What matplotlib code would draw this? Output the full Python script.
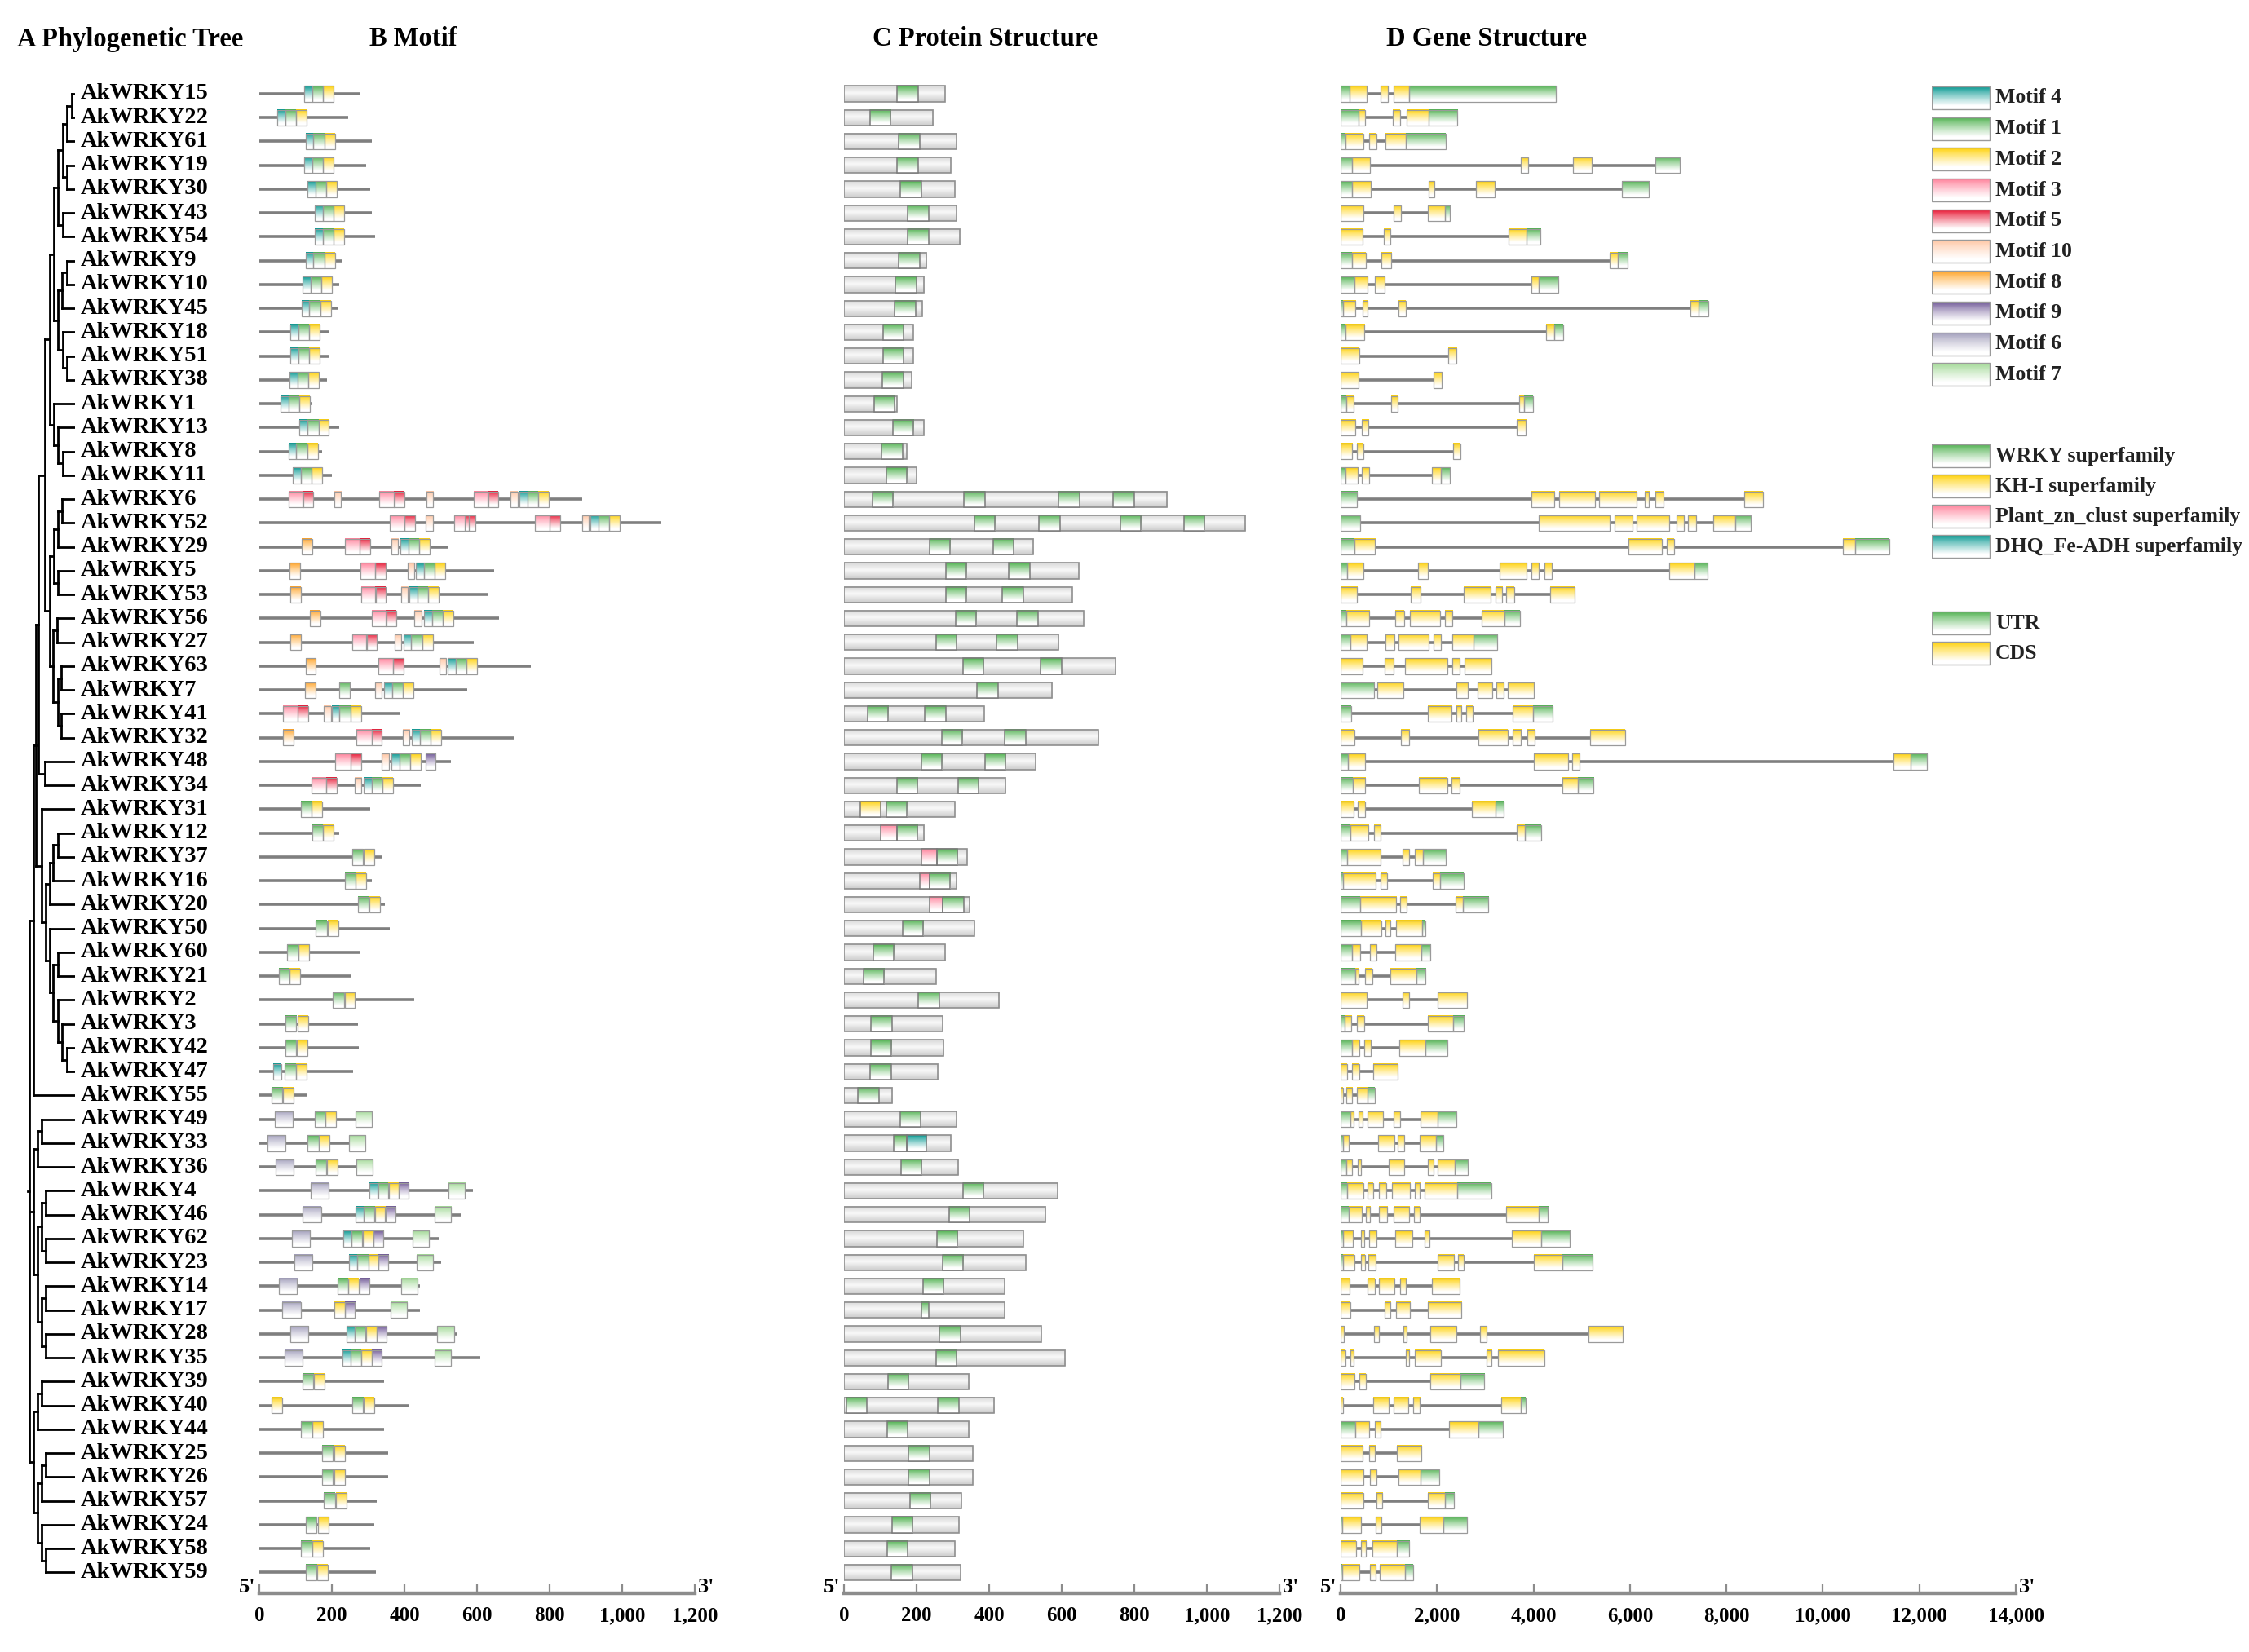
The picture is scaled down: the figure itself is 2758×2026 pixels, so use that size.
import numpy as np
import matplotlib
matplotlib.use('Agg')
import matplotlib.pyplot as plt
import matplotlib.colors as mcolors
from matplotlib.patches import Rectangle
from matplotlib.ticker import FuncFormatter, MultipleLocator

plt.rcParams['font.family'] = ['Liberation Serif', 'DejaVu Serif']
plt.rcParams['font.weight'] = 'bold'

# ---------------- data ----------------
genes = ['AkWRKY15', 'AkWRKY22', 'AkWRKY61', 'AkWRKY19', 'AkWRKY30', 'AkWRKY43', 'AkWRKY54',
         'AkWRKY9', 'AkWRKY10', 'AkWRKY45', 'AkWRKY18', 'AkWRKY51', 'AkWRKY38', 'AkWRKY1',
         'AkWRKY13', 'AkWRKY8', 'AkWRKY11', 'AkWRKY6', 'AkWRKY52', 'AkWRKY29', 'AkWRKY5',
         'AkWRKY53', 'AkWRKY56', 'AkWRKY27', 'AkWRKY63', 'AkWRKY7', 'AkWRKY41', 'AkWRKY32',
         'AkWRKY48', 'AkWRKY34', 'AkWRKY31', 'AkWRKY12', 'AkWRKY37', 'AkWRKY16', 'AkWRKY20',
         'AkWRKY50', 'AkWRKY60', 'AkWRKY21', 'AkWRKY2', 'AkWRKY3', 'AkWRKY42', 'AkWRKY47',
         'AkWRKY55', 'AkWRKY49', 'AkWRKY33', 'AkWRKY36', 'AkWRKY4', 'AkWRKY46', 'AkWRKY62',
         'AkWRKY23', 'AkWRKY14', 'AkWRKY17', 'AkWRKY28', 'AkWRKY35', 'AkWRKY39', 'AkWRKY40',
         'AkWRKY44', 'AkWRKY25', 'AkWRKY26', 'AkWRKY57', 'AkWRKY24', 'AkWRKY58', 'AkWRKY59']

prot_len = [278, 246, 311, 294, 305, 311, 320, 228, 221, 215, 190, 190, 187, 146, 220, 172, 200,
            890, 1106, 522, 647, 629, 660, 592, 749, 574, 386, 701, 528, 446, 305, 221, 339, 311,
            347, 359, 279, 253, 428, 272, 275, 259, 133, 311, 294, 315, 588, 556, 494, 501, 443,
            442, 543, 610, 344, 414, 344, 355, 355, 323, 316, 305, 321]

motif_width = {4: 22, 1: 30, 2: 29, 3: 41, 5: 29, 10: 19, 8: 29, 9: 27, 6: 50, 7: 45}

motif_sites = [
    [(4, 123), (1, 145), (2, 175)],
    [(4, 49), (1, 71), (2, 101)],
    [(4, 127), (1, 149), (2, 179)],
    [(4, 124), (1, 146), (2, 176)],
    [(4, 132), (1, 154), (2, 184)],
    [(4, 153), (1, 175), (2, 205)],
    [(4, 153), (1, 175), (2, 205)],
    [(4, 127), (1, 149), (2, 179)],
    [(4, 119), (1, 141), (2, 171)],
    [(4, 116), (1, 138), (2, 168)],
    [(4, 85), (1, 107), (2, 137)],
    [(4, 85), (1, 107), (2, 137)],
    [(4, 83), (1, 105), (2, 135)],
    [(4, 59), (1, 81), (2, 111)],
    [(4, 111), (1, 133), (2, 163)],
    [(4, 80), (1, 102), (2, 132)],
    [(4, 92), (1, 114), (2, 144)],
    [(3, 80), (5, 120), (10, 206), (3, 331), (5, 371), (10, 460), (3, 590), (5, 630),
     (10, 693), (4, 717), (1, 739), (2, 769)],
    [(3, 360), (5, 400), (10, 459), (3, 537), (5, 567), (3, 760), (5, 801), (10, 889),
     (4, 913), (1, 935), (2, 965)],
    [(8, 116), (3, 236), (5, 276), (10, 364), (4, 389), (1, 411), (2, 441)],
    [(8, 83), (3, 278), (5, 320), (10, 408), (4, 432), (1, 454), (2, 484)],
    [(8, 85), (3, 280), (5, 320), (10, 390), (4, 414), (1, 436), (2, 466)],
    [(8, 140), (3, 309), (5, 349), (10, 428), (4, 454), (1, 476), (2, 506)],
    [(8, 85), (3, 256), (5, 295), (10, 372), (4, 397), (1, 419), (2, 449)],
    [(8, 127), (3, 328), (5, 368), (10, 496), (4, 519), (1, 541), (2, 571)],
    [(8, 125), (1, 220), (10, 319), (4, 344), (1, 366), (2, 396)],
    [(3, 65), (5, 106), (10, 178), (4, 199), (1, 221), (2, 251)],
    [(8, 65), (3, 268), (5, 309), (10, 395), (4, 420), (1, 442), (2, 472)],
    [(3, 210), (5, 252), (10, 338), (4, 364), (1, 386), (2, 416), (9, 459)],
    [(3, 144), (5, 184), (10, 263), (4, 288), (1, 310), (2, 340)],
    [(1, 114), (2, 144)],
    [(1, 145), (2, 176)],
    [(1, 256), (2, 287)],
    [(1, 235), (2, 266)],
    [(1, 272), (2, 304)],
    [(1, 156), (2, 188)],
    [(1, 77), (2, 108)],
    [(1, 53), (2, 84)],
    [(1, 203), (2, 235)],
    [(1, 72), (2, 105)],
    [(1, 72), (2, 103)],
    [(4, 39), (1, 70), (2, 102)],
    [(1, 34), (2, 65)],
    [(6, 42), (1, 152), (2, 183), (7, 265)],
    [(6, 23), (1, 133), (2, 165), (7, 247)],
    [(6, 45), (1, 154), (2, 186), (7, 268)],
    [(6, 141), (4, 304), (1, 327), (2, 356), (9, 385), (7, 521)],
    [(6, 120), (4, 266), (1, 287), (2, 318), (9, 349), (7, 484)],
    [(6, 89), (4, 232), (1, 254), (2, 285), (9, 314), (7, 422)],
    [(6, 96), (4, 247), (1, 270), (2, 300), (9, 329), (7, 433)],
    [(6, 54), (1, 215), (2, 246), (9, 276), (7, 391)],
    [(6, 64), (2, 206), (9, 235), (7, 362)],
    [(6, 85), (4, 240), (1, 262), (2, 294), (9, 323), (7, 491)],
    [(6, 70), (4, 229), (1, 251), (2, 282), (9, 311), (7, 484)],
    [(1, 118), (2, 150)],
    [(2, 34), (1, 256), (2, 288)],
    [(1, 115), (2, 147)],
    [(1, 173), (2, 206)],
    [(1, 173), (2, 206)],
    [(1, 178), (2, 211)],
    [(1, 128), (2, 162)],
    [(1, 115), (2, 147)],
    [(1, 127), (2, 160)],
]

# W = WRKY, K = KH-I, P = Plant_zn_clust, D = DHQ_Fe-ADH
prot_domains = [
    [('W', 147, 204)], [('W', 72, 129)], [('W', 151, 208)], [('W', 147, 204)],
    [('W', 156, 213)], [('W', 176, 233)], [('W', 176, 233)], [('W', 151, 208)],
    [('W', 142, 199)], [('W', 140, 197)], [('W', 108, 165)], [('W', 108, 165)],
    [('W', 106, 163)], [('W', 83, 140)], [('W', 135, 192)], [('W', 104, 161)],
    [('W', 116, 173)],
    [('W', 78, 135), ('W', 331, 388), ('W', 592, 649), ('W', 742, 799)],
    [('W', 359, 416), ('W', 538, 595), ('W', 762, 819), ('W', 936, 993)],
    [('W', 236, 293), ('W', 411, 468)], [('W', 280, 337), ('W', 455, 512)],
    [('W', 281, 338), ('W', 437, 494)], [('W', 308, 365), ('W', 477, 534)],
    [('W', 254, 311), ('W', 421, 478)], [('W', 327, 384), ('W', 542, 599)],
    [('W', 367, 424)], [('W', 65, 122), ('W', 223, 280)],
    [('W', 269, 326), ('W', 443, 500)], [('W', 213, 270), ('W', 388, 445)],
    [('W', 145, 202), ('W', 314, 371)],
    [('K', 44, 101), ('W', 117, 174)],
    [('P', 101, 145), ('W', 145, 202)],
    [('P', 214, 256), ('W', 256, 313)],
    [('P', 210, 236), ('W', 236, 293)],
    [('P', 235, 273), ('W', 273, 330)],
    [('W', 161, 218)], [('W', 81, 138)], [('W', 54, 111)], [('W', 205, 262)],
    [('W', 75, 132)], [('W', 74, 131)], [('W', 73, 130)], [('W', 39, 96)],
    [('W', 154, 211)], [('W', 136, 174), ('D', 174, 228)], [('W', 157, 214)],
    [('W', 328, 385)], [('W', 290, 347)], [('W', 256, 313)], [('W', 271, 328)],
    [('W', 218, 275)], [('W', 214, 233)], [('W', 264, 321)], [('W', 254, 311)],
    [('W', 121, 178)], [('W', 7, 63), ('W', 259, 316)], [('W', 119, 176)],
    [('W', 178, 235)], [('W', 178, 235)], [('W', 181, 238)], [('W', 132, 189)],
    [('W', 119, 176)], [('W', 131, 188)],
]

# U = UTR, C = CDS (bp)
gene_parts = [
    [('U', 0, 180), ('C', 180, 547), ('C', 830, 981), ('C', 1103, 1424), ('U', 1424, 4470)],
    [('U', 0, 368), ('C', 368, 500), ('C', 1075, 1226), ('C', 1367, 1820), ('U', 1820, 2414)],
    [('U', 0, 104), ('C', 104, 472), ('C', 594, 745), ('C', 924, 1358), ('U', 1358, 2178)],
    [('U', 0, 245), ('C', 245, 613), ('C', 3744, 3895), ('C', 4819, 5205), ('U', 6535, 7035)],
    [('U', 0, 245), ('C', 245, 632), ('C', 1820, 1952), ('C', 2800, 3197), ('U', 5828, 6394)],
    [('C', 0, 472), ('C', 1094, 1245), ('C', 1811, 2160), ('U', 2160, 2263)],
    [('C', 0, 453), ('C', 896, 1037), ('C', 3480, 3857), ('U', 3857, 4149)],
    [('U', 0, 245), ('C', 245, 528), ('C', 839, 1056), ('C', 5573, 5752), ('U', 5752, 5950)],
    [('U', 0, 283), ('C', 283, 556), ('C', 707, 915), ('C', 3951, 4111), ('U', 4111, 4517)],
    [('U', 0, 47), ('C', 47, 311), ('C', 462, 556), ('C', 1198, 1348), ('C', 7261, 7421),
     ('U', 7421, 7619)],
    [('U', 0, 94), ('C', 94, 490), ('C', 4253, 4432), ('U', 4432, 4611)],
    [('C', 0, 387), ('C', 2225, 2395)],
    [('C', 0, 377), ('C', 1924, 2103)],
    [('U', 0, 113), ('C', 113, 273), ('C', 1047, 1188), ('C', 3697, 3810), ('U', 3810, 3989)],
    [('C', 0, 311), ('C', 434, 575), ('C', 3650, 3838)],
    [('C', 0, 245), ('C', 340, 472), ('C', 2339, 2480)],
    [('U', 0, 104), ('C', 104, 358), ('C', 443, 594), ('C', 1895, 2084), ('U', 2084, 2263)],
    [('U', 0, 340), ('C', 3951, 4432), ('C', 4526, 5271), ('C', 5365, 6139), ('C', 6299, 6394),
     ('C', 6526, 6696), ('C', 8374, 8751)],
    [('U', 0, 405), ('C', 4102, 5573), ('C', 5686, 6054), ('C', 6139, 6818), ('C', 6959, 7110),
     ('C', 7204, 7365), ('C', 7733, 8176), ('U', 8176, 8497)],
    [('U', 0, 283), ('C', 283, 717), ('C', 5969, 6658), ('C', 6761, 6912), ('C', 10411, 10675),
     ('U', 10675, 11373)],
    [('U', 0, 141), ('C', 141, 472), ('C', 1603, 1801), ('C', 3291, 3857), ('C', 3951, 4111),
     ('C', 4225, 4375), ('C', 6818, 7337), ('U', 7337, 7601)],
    [('C', 0, 340), ('C', 1452, 1650), ('C', 2546, 3103), ('C', 3206, 3348), ('C', 3433, 3593),
     ('C', 4347, 4857)],
    [('U', 0, 113), ('C', 113, 594), ('C', 1141, 1320), ('C', 1443, 2065), ('C', 2160, 2320),
     ('C', 2933, 3404), ('U', 3404, 3716)],
    [('U', 0, 198), ('C', 198, 538), ('C', 924, 1113), ('C', 1198, 1829), ('C', 1933, 2084),
     ('C', 2320, 2763), ('U', 2763, 3254)],
    [('C', 0, 453), ('C', 915, 1094), ('C', 1339, 2216), ('C', 2320, 2471), ('C', 2565, 3131)],
    [('U', 0, 698), ('C', 764, 1301), ('C', 2395, 2640), ('C', 2848, 3140), ('C', 3225, 3385),
     ('C', 3461, 4008)],
    [('U', 0, 217), ('C', 1801, 2292), ('C', 2395, 2508), ('C', 2603, 2735), ('C', 3565, 3989),
     ('U', 3989, 4404)],
    [('C', 0, 283), ('C', 1254, 1424), ('C', 2857, 3461), ('C', 3574, 3744), ('C', 3876, 4027),
     ('C', 5177, 5894)],
    [('U', 0, 160), ('C', 160, 509), ('C', 4008, 4724), ('C', 4800, 4951), ('C', 11467, 11816),
     ('U', 11816, 12156)],
    [('U', 0, 255), ('C', 255, 509), ('C', 1622, 2207), ('C', 2301, 2461), ('C', 4592, 4913),
     ('U', 4913, 5243)],
    [('C', 0, 274), ('C', 358, 509), ('C', 2725, 3216), ('U', 3216, 3376)],
    [('U', 0, 198), ('C', 198, 575), ('C', 689, 821), ('C', 3660, 3820), ('U', 3820, 4151)],
    [('U', 0, 132), ('C', 132, 830), ('C', 1292, 1424), ('C', 1547, 1716), ('U', 1716, 2179)],
    [('U', 0, 47), ('C', 47, 726), ('C', 830, 962), ('C', 1915, 2066), ('U', 2066, 2547)],
    [('U', 0, 406), ('C', 406, 1151), ('C', 1236, 1368), ('C', 2377, 2528), ('U', 2528, 3066)],
    [('U', 0, 425), ('C', 425, 840), ('C', 925, 1038), ('C', 1151, 1698), ('U', 1698, 1764)],
    [('U', 0, 245), ('C', 245, 406), ('C', 613, 745), ('C', 1132, 1679), ('U', 1679, 1868)],
    [('U', 0, 302), ('C', 302, 377), ('C', 509, 651), ('C', 1038, 1566), ('U', 1566, 1764)],
    [('C', 0, 538), ('C', 1292, 1424), ('C', 2009, 2613)],
    [('U', 0, 85), ('C', 85, 226), ('C', 340, 491), ('C', 1811, 2330), ('U', 2330, 2556)],
    [('U', 0, 245), ('C', 245, 396), ('C', 491, 632), ('C', 1217, 1754), ('U', 1754, 2207)],
    [('C', 0, 132), ('C', 245, 396), ('C', 670, 1179)],
    [('C', 0, 47), ('C', 123, 245), ('C', 330, 557), ('U', 557, 708)],
    [('U', 0, 198), ('C', 198, 274), ('C', 377, 453), ('C', 566, 887), ('C', 1104, 1236),
     ('C', 1651, 2009), ('U', 2009, 2396)],
    [('U', 0, 57), ('C', 57, 170), ('C', 783, 1113), ('C', 1189, 1311), ('C', 1632, 1981),
     ('U', 1981, 2132)],
    [('U', 0, 123), ('C', 123, 236), ('C', 358, 425), ('C', 991, 1311), ('C', 1811, 1924),
     ('C', 2009, 2368), ('U', 2368, 2632)],
    [('U', 0, 141), ('C', 141, 472), ('C', 566, 670), ('C', 792, 943), ('C', 1057, 1443),
     ('C', 1538, 1641), ('C', 1736, 2415), ('U', 2415, 3123)],
    [('U', 0, 170), ('C', 170, 443), ('C', 528, 613), ('C', 792, 962), ('C', 1094, 1424),
     ('C', 1519, 1632), ('C', 3434, 4113), ('U', 4113, 4302)],
    [('U', 0, 47), ('C', 47, 255), ('C', 415, 491), ('C', 594, 736), ('C', 1141, 1481),
     ('C', 1736, 1849), ('C', 3557, 4151), ('U', 4151, 4755)],
    [('U', 0, 47), ('C', 47, 283), ('C', 425, 500), ('C', 575, 726), ('C', 2009, 2358),
     ('C', 2443, 2556), ('C', 4009, 4594), ('U', 4594, 5217)],
    [('C', 0, 179), ('C', 566, 717), ('C', 792, 1123), ('C', 1226, 1349), ('C', 1887, 2462)],
    [('C', 0, 198), ('C', 906, 1028), ('C', 1151, 1443), ('C', 1811, 2509)],
    [('C', 0, 75), ('C', 698, 792), ('C', 1302, 1377), ('C', 1858, 2396), ('C', 2896, 3019),
     ('C', 5132, 5858)],
    [('C', 0, 94), ('C', 208, 274), ('C', 1349, 1424), ('C', 1547, 2085), ('C', 3019, 3123),
     ('C', 3264, 4226)],
    [('C', 0, 292), ('C', 396, 519), ('C', 1868, 2481), ('U', 2481, 2972)],
    [('C', 0, 47), ('C', 670, 1000), ('C', 1094, 1406), ('C', 1500, 1641), ('C', 3330, 3736),
     ('U', 3736, 3830)],
    [('U', 0, 302), ('C', 302, 585), ('C', 708, 830), ('C', 2255, 2858), ('U', 2858, 3368)],
    [('C', 0, 462), ('C', 585, 717), ('C', 1160, 1670)],
    [('C', 0, 481), ('C', 613, 745), ('C', 1198, 1660), ('U', 1660, 2047)],
    [('C', 0, 472), ('C', 736, 868), ('C', 1802, 2160), ('U', 2160, 2358)],
    [('U', 0, 38), ('C', 38, 425), ('C', 726, 849), ('C', 1641, 2132), ('U', 2132, 2623)],
    [('C', 0, 321), ('C', 415, 528), ('C', 651, 1160), ('U', 1160, 1415)],
    [('U', 0, 38), ('C', 38, 396), ('C', 604, 726), ('C', 811, 1340), ('U', 1340, 1500)],
]


def N(x, *kids):
    return (x, kids)


# phylogenetic tree, internal nodes carry their horizontal depth (leaves at 215)
tree = N(48,
    N(62,
        N(72,
            N(80,
                N(105,
                    N(122,
                        N(138,
                            N(152,
                                N(172, N(185, N(203, 'AkWRKY15', 'AkWRKY22'), 'AkWRKY61'),
                                  N(185, 'AkWRKY19', 'AkWRKY30')),
                                N(170, 'AkWRKY43', 'AkWRKY54')),
                            N(152,
                                N(168, N(185, 'AkWRKY9', 'AkWRKY10'), 'AkWRKY45'),
                                N(170, 'AkWRKY18', N(185, 'AkWRKY51', 'AkWRKY38')))),
                        N(137, 'AkWRKY1', N(152, 'AkWRKY13', N(170, 'AkWRKY8', 'AkWRKY11')))),
                    N(122,
                        N(137, N(152, N(168, 'AkWRKY6', 'AkWRKY52'), 'AkWRKY29'),
                          N(152, 'AkWRKY5', 'AkWRKY53')),
                        N(135, N(150, 'AkWRKY56', 'AkWRKY27'),
                          N(152, N(165, 'AkWRKY63', 'AkWRKY7'), N(165, 'AkWRKY41', 'AkWRKY32'))))),
                N(105, 'AkWRKY48', 'AkWRKY34')),
            N(92, 'AkWRKY31',
                N(108,
                    N(122, N(135, N(152, 'AkWRKY12', 'AkWRKY37'), 'AkWRKY16'), 'AkWRKY20'),
                    N(122, 'AkWRKY50',
                      N(135, N(152, 'AkWRKY60', 'AkWRKY21'),
                        N(152, 'AkWRKY2', N(168, 'AkWRKY3', N(185, 'AkWRKY42', 'AkWRKY47')))))))),
        'AkWRKY55'),
    N(62,
        N(78, N(92, 'AkWRKY49', 'AkWRKY33'), 'AkWRKY36'),
        N(78, N(92, N(108, 'AkWRKY4', 'AkWRKY46'), N(108, 'AkWRKY62', 'AkWRKY23')),
          N(92, N(108, 'AkWRKY14', 'AkWRKY17'), N(108, 'AkWRKY28', 'AkWRKY35')))),
    N(62,
        N(78, N(92, 'AkWRKY39', 'AkWRKY40'), 'AkWRKY44'),
        N(78, N(92, N(108, 'AkWRKY25', 'AkWRKY26'), 'AkWRKY57'),
          N(92, 'AkWRKY24', N(108, 'AkWRKY58', 'AkWRKY59')))))

motif_order = [4, 1, 2, 3, 5, 10, 8, 9, 6, 7]
motif_colors = {4: '#00968f', 1: '#4cb04c', 2: '#ffd000', 3: '#ff7d97', 5: '#e8102e',
                10: '#ffc4a0', 8: '#ffa01e', 9: '#6c5494', 6: '#a09cba', 7: '#9fd893'}
dom_labels = ['WRKY superfamily', 'KH-I superfamily', 'Plant_zn_clust superfamily',
              'DHQ_Fe-ADH superfamily']
dom_colors = {'W': '#4cb04c', 'K': '#ffd000', 'P': '#ff7d97', 'D': '#00968f'}
part_labels = ['UTR', 'CDS']
part_colors = {'U': '#4cb04c', 'C': '#ffd000'}

# ---------------- helpers ----------------
W, H = 2758, 2026
fig = plt.figure(figsize=(W / 100, H / 100), dpi=100)

_t = np.linspace(0, 1, 32)[:, None, None]


def fade(color):
    c = np.array(mcolors.to_rgb(color))[None, None, :]
    w = np.clip(_t / 0.85, 0, 1) ** 0.8
    return c * (1 - w) + w


grey_img = np.repeat(np.interp(_t, [0, 0.45, 1], [0.85, 0.975, 0.80]), 3, axis=2)


def gbox(ax, x0, x1, y, h, img, ec='#9a9a9a', lw=0.9, z=3):
    ax.imshow(img, extent=(x0, x1, y + h / 2, y - h / 2), aspect='auto',
              interpolation='bilinear', zorder=z)
    ax.add_patch(Rectangle((x0, y - h / 2), x1 - x0, h, fill=False, ec=ec, lw=lw, zorder=z + 0.1))


row_of = {g: i for i, g in enumerate(genes)}
n = len(genes)
y_bot, y_top = 62.86, -1
ax_b = 1 - 1953.6 / H
ax_h = 1867.85 / H
BH = 0.66


def panel(x0px, x1px, xmax, step):
    ax = fig.add_axes([x0px / W, ax_b, (x1px - x0px) / W, ax_h])
    return ax


def finish(ax, xmax, step):
    ax.set_xlim(0, xmax)
    ax.set_ylim(y_bot, y_top)
    for s in ['top', 'left', 'right']:
        ax.spines[s].set_visible(False)
    ax.spines['bottom'].set_color('#8c8c8c')
    ax.spines['bottom'].set_linewidth(3.2)
    ax.set_yticks([])
    ax.xaxis.set_major_locator(MultipleLocator(step))
    ax.xaxis.set_major_formatter(FuncFormatter(lambda v, p: f'{int(v):,}'))
    ax.tick_params(axis='x', direction='in', length=9, width=1.6, color='#8c8c8c',
                   labelsize=18, pad=12)
    ax.annotate("5'", xy=(0, y_bot), xytext=(-3, 5), textcoords='offset points',
                ha='right', va='center', fontsize=19, annotation_clip=False)
    ax.annotate("3'", xy=(xmax, y_bot), xytext=(3, 5), textcoords='offset points',
                ha='left', va='center', fontsize=19, annotation_clip=False)
    ax.patch.set_alpha(0)


# ---------------- A: tree ----------------
ax_t = fig.add_axes([20 / W, ax_b, (91.7 - 20) / W, ax_h])
ax_t.axis('off')
LEAF_X = 215


def draw_node(node):
    if isinstance(node, str):
        return LEAF_X, row_of[node]
    x, kids = node
    pts = [draw_node(k) for k in kids]
    for cx, cy in pts:
        ax_t.plot([x, cx], [cy, cy], color='black', lw=2.0, solid_capstyle='projecting')
    ys = [p[1] for p in pts]
    ax_t.plot([x, x], [min(ys), max(ys)], color='black', lw=2.0, solid_capstyle='projecting')
    return x, (ys[0] + ys[-1]) / 2


rx, ry = draw_node(tree)
ax_t.plot([rx - 6, rx], [ry, ry], color='black', lw=2.0)
for g in genes:
    ax_t.text(LEAF_X + 22, row_of[g], g, ha='left', va='center', fontsize=20.5,
              clip_on=False)
ax_t.set_xlim(0, LEAF_X)
ax_t.set_ylim(y_bot, y_top)

# ---------------- B: motif ----------------
ax_m = panel(318, 852, 1200, 200)
for i in range(n):
    ax_m.plot([0, prot_len[i]], [i, i], color='#7f7f7f', lw=2.6, zorder=1,
              solid_capstyle='butt')
    for mid, st in motif_sites[i]:
        gbox(ax_m, st, st + motif_width[mid], i, BH, fade(motif_colors[mid]))
finish(ax_m, 1200, 200)

# ---------------- C: protein ----------------
ax_p = panel(1035, 1569, 1200, 200)
for i in range(n):
    gbox(ax_p, 0, prot_len[i], i, BH, grey_img, ec='#8f8f8f', lw=1.2, z=2)
    for kind, s, e in prot_domains[i]:
        gbox(ax_p, s, e, i, BH, fade(dom_colors[kind]), ec='#7a7a7a', lw=1.1, z=3)
finish(ax_p, 1200, 200)

# ---------------- D: gene structure ----------------
ax_g = panel(1644, 2472, 14000, 2000)
for i in range(n):
    parts = gene_parts[i]
    ax_g.plot([parts[0][1], parts[-1][2]], [i, i], color='#7f7f7f', lw=2.6, zorder=1,
              solid_capstyle='butt')
    for kind, s, e in parts:
        gbox(ax_g, s, e, i, BH, fade(part_colors[kind]), ec='#9a9a9a', lw=0.9)
finish(ax_g, 14000, 2000)

# ---------------- legend ----------------
ax_l = fig.add_axes([2369 / W, 1 - 830 / H, 389 / W, 730 / H])
ax_l.axis('off')
leg_rows = [(f'Motif {m}', motif_colors[m], 20 + k * 37.7) for k, m in enumerate(motif_order)]
leg_rows += [(lab, dom_colors[c], 459 + k * 37) for k, (lab, c) in
             enumerate(zip(dom_labels, 'WKPD'))]
leg_rows += [(lab, part_colors[c], 664 + k * 37) for k, (lab, c) in
             enumerate(zip(part_labels, 'UC'))]
for lab, col, yy in leg_rows:
    gbox(ax_l, 0, 71, yy, 28, fade(col), ec='#9a9a9a', lw=1.0)
    ax_l.text(78, yy, lab, ha='left', va='center', fontsize=18.5, color='#222222')
ax_l.set_xlim(0, 389)
ax_l.set_ylim(730, 0)

# ---------------- titles ----------------
ty = 1 - 48 / H
fig.text(21 / W, ty, 'A Phylogenetic Tree', ha='left', va='center', fontsize=23.5)
fig.text(507 / W, ty, 'B Motif', ha='center', va='center', fontsize=23.5)
fig.text(1208 / W, ty, 'C Protein Structure', ha='center', va='center', fontsize=23.5)
fig.text(1823 / W, ty, 'D Gene Structure', ha='center', va='center', fontsize=23.5)

fig.savefig('out.png', dpi=100)
